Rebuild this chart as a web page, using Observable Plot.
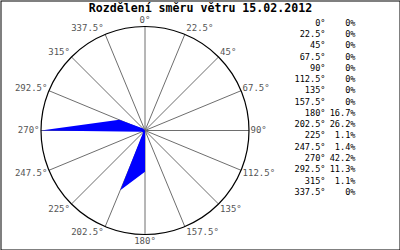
<!DOCTYPE html>
<html><head><meta charset="utf-8">
<script src="https://cdn.jsdelivr.net/npm/d3@7"></script>
<script src="https://cdn.jsdelivr.net/npm/@observablehq/plot@0.6"></script>
<style>html,body{margin:0;padding:0;background:#fff}</style>
</head><body><div id="chart"></div>
<script>
const title = "Rozdělení směru větru 15.02.2012";
const directions = [0, 22.5, 45, 67.5, 90, 112.5, 135, 157.5, 180, 202.5, 225, 247.5, 270, 292.5, 315, 337.5];
const directionLabels = ["0°","22.5°","45°","67.5°","90°","112.5°","135°","157.5°","180°","202.5°","225°","247.5°","270°","292.5°","315°","337.5°"];
const percents = [0, 0, 0, 0, 0, 0, 0, 0, 16.7, 26.2, 1.1, 1.4, 42.2, 11.3, 1.1, 0];
const percentLabels = ["0%","0%","0%","0%","0%","0%","0%","0%","16.7%","26.2%","1.1%","1.4%","42.2%","11.3%","1.1%","0%"];

// layout (pixels)
const W = 400, H = 250, CX = 144.5, CY = 130, R = 104;
const maxVal = d3.max(percents);
const rad = d => d * Math.PI / 180;

const rows = directions.map((d, i) => ({
  dir: d, label: directionLabels[i], pct: percents[i], pctLabel: percentLabels[i], i
}));

const px = d => Math.sin(rad(d.dir)) * d.pct / maxVal;
const py = d => Math.cos(rad(d.dir)) * d.pct / maxVal;
const ex = d => Math.sin(rad(d.dir));
const ey = d => Math.cos(rad(d.dir));
const side = d => (d.dir === 0 || d.dir === 180) ? 0 : (d.dir < 180 ? 1 : -1);
// label anchor: just outside the spoke end, shifted up (top half) or down (bottom half)
const lx = d => ex(d) + side(d) * 1.5 / R;
const ly = d => ey(d) + 6.5 * Math.cos(rad(d.dir)) / R;

const font = "DejaVu Sans Mono, monospace";
const rowY = i => (CY - (22.5 + i * 11.27)) / R;

const chart = Plot.plot({
  width: W, height: H, margin: 0,
  x: {domain: [-CX / R, (W - CX) / R], axis: null},
  y: {domain: [-(H - CY) / R, CY / R], axis: null},
  style: {background: "white", fontFamily: font},
  marks: [
    Plot.frame({stroke: "black", inset: 0.5}),
    Plot.link(rows, {x1: 0, y1: 0, x2: ex, y2: ey, stroke: "#6e6e6e", strokeWidth: 1}),
    Plot.dot([0], {x: 0, y: 0, r: R, stroke: "black", fill: "none", strokeWidth: 1.2}),
    Plot.line(rows, {x: px, y: py, curve: "linear-closed", fill: "#0000ff", stroke: "none"}),
    Plot.text(rows.filter(d => side(d) > 0), {x: lx, y: ly, text: "label", textAnchor: "start", fill: "#555", fontSize: 9, fontFamily: font}),
    Plot.text(rows.filter(d => side(d) < 0), {x: lx, y: ly, text: "label", textAnchor: "end", fill: "#555", fontSize: 9, fontFamily: font}),
    Plot.text(rows.filter(d => side(d) === 0), {x: lx, y: ly, text: "label", textAnchor: "middle", fill: "#555", fontSize: 9, fontFamily: font}),
    Plot.text(rows, {x: (325 - CX) / R, y: d => rowY(d.i), text: "label", textAnchor: "end", fill: "black", fontSize: 8.6, fontFamily: font}),
    Plot.text(rows, {x: (355 - CX) / R, y: d => rowY(d.i), text: "pctLabel", textAnchor: "end", fill: "black", fontSize: 8.6, fontFamily: font}),
    Plot.text([title], {frameAnchor: "top", dy: 3, lineAnchor: "top", fontWeight: "bold", fontSize: 11.6, fill: "black", fontFamily: font})
  ]
});
document.getElementById("chart").appendChild(chart);
</script>
</body></html>
